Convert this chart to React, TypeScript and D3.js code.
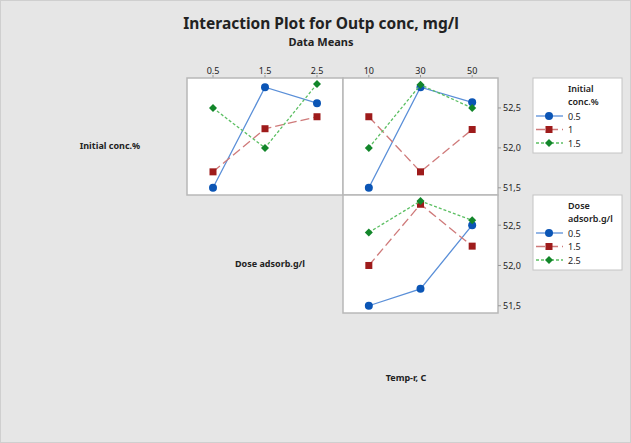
import React from 'react';
import * as d3 from 'd3';

// chart values
const doseLevels = [0.5, 1.5, 2.5];
const tempLevels = [10, 30, 50];
const concLevels = ['0.5', '1', '1.5'];
const doseNames = ['0.5', '1.5', '2.5'];
const yTicks = [51.5, 52.0, 52.5];

// means for Initial conc (series) vs Dose (x)
const concByDose = [
    [51.5, 52.76, 52.56],
    [51.7, 52.24, 52.39],
    [52.5, 52.0, 52.8],
];
// means for Initial conc (series) vs Temp (x)
const concByTemp = [
    [51.5, 52.76, 52.57],
    [52.39, 51.7, 52.23],
    [52.0, 52.79, 52.5],
];
// means for Dose (series) vs Temp (x)
const doseByTemp = [
    [51.5, 51.71, 52.5],
    [52.0, 52.76, 52.24],
    [52.41, 52.8, 52.56],
];

const W = 631;
const H = 443;
const font = '"Noto Sans", "Open Sans", sans-serif';

const markColor = ['#0b55b5', '#9e1b1b', '#12862a'];
const lineColor = ['#5a8fd8', '#cf7a7a', '#5cbf63'];
const dashes = ['none', '9,4', '3,2'];

const left = 187, mid = 343, right = 498;
const top1 = 78, top2 = 195, bottom2 = 313;
const yDomain = [51.41, 52.875];

const Marker = ({ i, x, y }: { i: number; x: number; y: number }) => {
    if (i === 0) return <circle cx={x} cy={y} r={4} fill={markColor[0]} />;
    if (i === 1) return <rect x={x - 3.5} y={y - 3.5} width={7} height={7} fill={markColor[1]} />;
    const s = 4;
    return <path d={`M${x},${y - s}L${x + s},${y}L${x},${y + s}L${x - s},${y}Z`} fill={markColor[2]} />;
};

const fmt = (v: number) => d3.format('.1f')(v).replace('.', ',');

const Panel = ({ x0, x1, y0, y1, xs, rows }: any) => {
    const x = d3.scaleLinear().domain(xs).range([x0, x1]);
    const y = d3.scaleLinear().domain(yDomain).range([y1, y0]);
    const line = d3.line<[number, number]>().x(d => d[0]).y(d => d[1]);
    return (
        <g>
            <rect x={x0} y={y0} width={x1 - x0} height={y1 - y0} fill="#fff" stroke="#b8b8b8" strokeWidth={1.5} />
            {rows.map((r: any, i: number) => {
                const pts: [number, number][] = r.vals.map((v: number, j: number) => [x(r.xv[j]), y(v)]);
                return (
                    <g key={i}>
                        <path d={line(pts) || ''} fill="none" stroke={lineColor[i]} strokeWidth={1.3} strokeDasharray={dashes[i]} />
                        {pts.map((p, j) => <Marker key={j} i={i} x={p[0]} y={p[1]} />)}
                    </g>
                );
            })}
        </g>
    );
};

const Legend = ({ x, y, h, title, labels }: any) => (
    <g>
        <rect x={x} y={y} width={89} height={h} fill="#fff" stroke="#c4c4c4" />
        <text x={x + 35} y={y + 14} fontSize={9} fontWeight={600} fill="#222" fontFamily={font}>{title[0]}</text>
        <text x={x + 35} y={y + 27} fontSize={9} fontWeight={600} fill="#222" fontFamily={font}>{title[1]}</text>
        {labels.map((l: string, i: number) => {
            const ly = y + 38 + i * 13.5;
            return (
                <g key={l}>
                    <line x1={x + 3} x2={x + 30} y1={ly} y2={ly} stroke={lineColor[i]} strokeWidth={1.3} strokeDasharray={dashes[i]} />
                    <Marker i={i} x={x + 16} y={ly} />
                    <text x={x + 35} y={ly + 3.5} fontSize={9} fill="#222" fontFamily={font}>{l}</text>
                </g>
            );
        })}
    </g>
);

export default function App() {
    const yA = d3.scaleLinear().domain(yDomain).range([top2, top1]);
    const yB = d3.scaleLinear().domain(yDomain).range([bottom2, top2]);
    const xDose = d3.scaleLinear().domain([0, 3]).range([left, mid]);
    const xTemp = d3.scaleLinear().domain([0, 60]).range([mid, right]);
    return (
        <svg width={W} height={H} style={{ position: 'absolute', left: 0, top: 0 }}>
            <rect x={0.5} y={0.5} width={W - 1} height={H - 1} fill="#e6e6e6" stroke="#cfcfcf" />
            <text x={321} y={29} textAnchor="middle" fontSize={15.5} fontWeight="bold" fill="#222" fontFamily={font}>
                Interaction Plot for Outp conc, mg/l
            </text>
            <text x={321} y={46} textAnchor="middle" fontSize={11} fontWeight="bold" fill="#222" fontFamily={font}>Data Means</text>

            {/* top tick labels */}
            {doseLevels.map((d, i) => (
                <g key={'d' + i}>
                    <line x1={xDose(d)} x2={xDose(d)} y1={top1} y2={top1 - 3} stroke="#999" />
                    <text x={xDose(d)} y={74} textAnchor="middle" fontSize={9} fill="#222" fontFamily={font}>{doseNames[i]}</text>
                </g>
            ))}
            {tempLevels.map(t => (
                <g key={'t' + t}>
                    <line x1={xTemp(t)} x2={xTemp(t)} y1={top1} y2={top1 - 3} stroke="#999" />
                    <text x={xTemp(t)} y={74} textAnchor="middle" fontSize={9} fill="#222" fontFamily={font}>{t}</text>
                </g>
            ))}

            <Panel x0={left} x1={mid} y0={top1} y1={top2} xs={[0, 3]}
                rows={concByDose.map(v => ({ vals: v, xv: doseLevels }))} />
            <Panel x0={mid} x1={right} y0={top1} y1={top2} xs={[0, 60]}
                rows={concByTemp.map(v => ({ vals: v, xv: tempLevels }))} />
            <Panel x0={mid} x1={right} y0={top2} y1={bottom2} xs={[0, 60]}
                rows={doseByTemp.map(v => ({ vals: v, xv: tempLevels }))} />

            {/* right axes */}
            {[yA, yB].map((ys, k) => yTicks.map(t => (
                <g key={k + '-' + t}>
                    <line x1={right} x2={right + 3} y1={ys(t)} y2={ys(t)} stroke="#999" />
                    <text x={right + 5} y={ys(t) + 3.5} fontSize={9} fill="#222" fontFamily={font}>{fmt(t)}</text>
                </g>
            )))}

            {/* diagonal labels */}
            <text x={110} y={149} textAnchor="middle" fontSize={9} fontWeight="bold" fill="#222" fontFamily={font}>Initial conc.%</text>
            <text x={270} y={267} textAnchor="middle" fontSize={9} fontWeight="bold" fill="#222" fontFamily={font}>Dose adsorb.g/l</text>
            <text x={406} y={381} textAnchor="middle" fontSize={9} fontWeight="bold" fill="#222" fontFamily={font}>Temp-r, C</text>

            <Legend x={533} y={78} h={75} title={['Initial', 'conc.%']} labels={concLevels} />
            <Legend x={533} y={195} h={75} title={['Dose', 'adsorb.g/l']} labels={doseNames} />
        </svg>
    );
}
